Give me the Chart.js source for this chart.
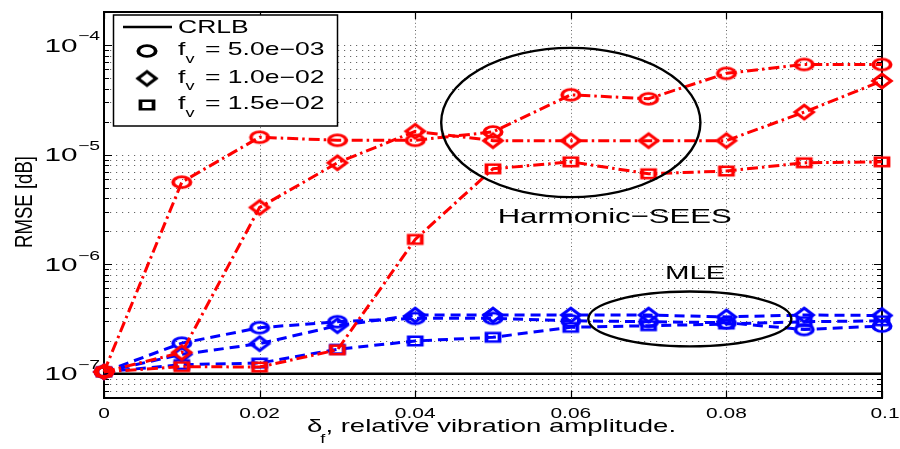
<!DOCTYPE html>
<html>
<head>
<meta charset="utf-8">
<script src="https://cdn.jsdelivr.net/npm/chart.js@4.4.1/dist/chart.umd.min.js"></script>
<style>
html,body{margin:0;padding:0;background:#fff;}
canvas{display:block;}
</style>
</head>
<body>
<canvas id="c" width="900" height="449"></canvas>
<script>
// ---------------- data ----------------
const xValues = [0, 0.01, 0.02, 0.03, 0.04, 0.05, 0.06, 0.07, 0.08, 0.09, 0.1];
const crlbValues = [1.0e-7, 1.0e-7, 1.0e-7, 1.0e-7, 1.0e-7, 1.0e-7, 1.0e-7, 1.0e-7, 1.0e-7, 1.0e-7, 1.0e-7];
// Harmonic-SEES (red, dash-dot)
const seesFv1 = [1.04e-7, 5.6e-6, 1.44e-5, 1.35e-5, 1.35e-5, 1.61e-5, 3.51e-5, 3.23e-5, 5.51e-5, 6.64e-5, 6.64e-5];
const seesFv2 = [1.04e-7, 1.56e-7, 3.29e-6, 8.41e-6, 1.63e-5, 1.34e-5, 1.34e-5, 1.34e-5, 1.34e-5, 2.44e-5, 4.70e-5];
const seesFv3 = [1.04e-7, 1.16e-7, 1.15e-7, 1.65e-7, 1.68e-6, 7.41e-6, 8.58e-6, 6.68e-6, 7.07e-6, 8.41e-6, 8.58e-6];
// MLE (blue, dashed)
const mleFv1 = [1.04e-7, 1.90e-7, 2.63e-7, 2.98e-7, 3.20e-7, 3.20e-7, 3.04e-7, 2.98e-7, 2.92e-7, 2.53e-7, 2.72e-7];
const mleFv2 = [1.04e-7, 1.50e-7, 1.88e-7, 2.74e-7, 3.43e-7, 3.43e-7, 3.43e-7, 3.43e-7, 3.30e-7, 3.43e-7, 3.40e-7];
const mleFv3 = [1.04e-7, 1.21e-7, 1.25e-7, 1.67e-7, 1.99e-7, 2.15e-7, 2.65e-7, 2.74e-7, 2.84e-7, 2.98e-7, 3.04e-7];

const legendLabels = ['CRLB', '= 5.0e\u221203', '= 1.0e\u221202', '= 1.5e\u221202'];
const xTickValues = [0, 0.02, 0.04, 0.06, 0.08, 0.1];
const xTickLabels = ['0', '0.02', '0.04', '0.06', '0.08', '0.1'];
const yTickValues = [1e-7, 1e-6, 1e-5, 1e-4];
const yTickBases = ['10', '10', '10', '10'];
const yTickExponents = ['\u22127', '\u22126', '\u22125', '\u22124'];
const xAxisTitle = ['\u03B4', 'f', ', relative vibration amplitude.'];
const yAxisTitle = 'RMSE [dB]';
const annotationTexts = ['Harmonic\u2212SEES', 'MLE'];
// annotation anchors in data units: [x, y]
const annotationAnchors = [[0.0506, 2.8e-6], [0.0721, 8.43e-7]];
// ellipses in data units: [centerX, centerY, halfWidthX, halfHeightDecades]
const ellipseSees = [0.06, 1.96e-5, 0.01666, 0.681];
const ellipseMle = [0.0753, 3.16e-7, 0.01305, 0.25];

// ---------------- markers ----------------
const FONT = '"Liberation Sans", Arial, Helvetica, sans-serif';
function makeMarker(shape, color) {
  const c = document.createElement('canvas');
  c.width = 30; c.height = 22;
  const g = c.getContext('2d');
  g.setTransform(1.45, 0, 0, 1, 15, 11);
  g.strokeStyle = color;
  g.lineWidth = 2.6;
  g.lineJoin = 'miter';
  g.beginPath();
  if (shape === 'circle') {
    g.ellipse(0, 0, 6.0, 5.4, 0, 0, Math.PI * 2);
  } else if (shape === 'diamond') {
    g.moveTo(0, -6.8); g.lineTo(6.3, 0); g.lineTo(0, 6.8); g.lineTo(-6.3, 0); g.closePath();
  } else {
    g.rect(-4.5, -4.2, 9.0, 8.4);
  }
  g.stroke();
  return c;
}
const RED = '#ff0000', BLUE = '#0000ff';
const M = {};
['circle', 'diamond', 'square'].forEach(s => {
  M[s + RED] = makeMarker(s, RED);
  M[s + BLUE] = makeMarker(s, BLUE);
  M[s + '#000'] = makeMarker(s, '#000000');
});

const pts = arr => xValues.map((x, i) => ({ x: x, y: arr[i] }));
function ds(label, arr, color, dash, shape, order) {
  return {
    label: label, data: pts(arr), borderColor: color, backgroundColor: color,
    borderWidth: 3, borderDash: dash, fill: false, tension: 0,
    pointStyle: M[shape + color], pointRadius: 9, pointHoverRadius: 9,
    clip: false, order: order
  };
}
const redDash = [11, 4, 2.5, 4];
const blueDash = [10, 6];

// ---------------- text helper ----------------
function txt(ctx, s, x, base, size, sx, align) {
  ctx.font = size + 'px ' + FONT;
  const w = ctx.measureText(s).width * sx;
  let x0 = x;
  if (align === 'center') x0 = x - w / 2; else if (align === 'right') x0 = x - w;
  ctx.save();
  ctx.translate(x0, base);
  ctx.scale(sx, 1);
  ctx.textAlign = 'left';
  ctx.textBaseline = 'alphabetic';
  ctx.fillStyle = '#000';
  ctx.fillText(s, 0, 0);
  ctx.restore();
  return x0 + w;
}

function gridValues(min, max) {
  const out = [];
  for (let e = -9; e <= -3; e++) {
    for (let m = 1; m <= 9; m++) {
      const v = m * Math.pow(10, e);
      if (v > min * 1.0001 && v < max * 0.9999) out.push({ v: v, major: m === 1 });
    }
  }
  return out;
}

const decor = {
  id: 'decor',
  beforeDraw(chart) {
    const ctx = chart.ctx;
    ctx.save(); ctx.fillStyle = '#fff'; ctx.fillRect(0, 0, chart.width, chart.height); ctx.restore();
  },
  beforeDatasetsDraw(chart) {
    const ctx = chart.ctx, a = chart.chartArea, xs = chart.scales.x, ys = chart.scales.y;
    const gv = gridValues(ys.min, ys.max);
    ctx.save();
    // horizontal dotted grid
    ctx.strokeStyle = 'rgba(0,0,0,0.6)';
    ctx.lineWidth = 1;
    ctx.setLineDash([1.2, 4.8]);
    gv.forEach(g => {
      const y = Math.round(ys.getPixelForValue(g.v)) + 0.5;
      ctx.beginPath(); ctx.moveTo(a.left, y); ctx.lineTo(a.right, y); ctx.stroke();
    });
    // vertical dotted grid
    ctx.setLineDash([1, 2.6]);
    xTickValues.slice(1, -1).forEach(v => {
      const x = Math.round(xs.getPixelForValue(v)) + 0.5;
      ctx.beginPath(); ctx.moveTo(x, a.top); ctx.lineTo(x, a.bottom); ctx.stroke();
    });
    ctx.setLineDash([]);
    // frame
    ctx.strokeStyle = '#000';
    ctx.lineWidth = 2;
    ctx.strokeRect(a.left, a.top, a.right - a.left, a.bottom - a.top);
    // ticks
    ctx.lineWidth = 1.2;
    gv.forEach(g => {
      const y = Math.round(ys.getPixelForValue(g.v)) + 0.5;
      const L = g.major ? 8 : 5;
      ctx.beginPath();
      ctx.moveTo(a.left, y); ctx.lineTo(a.left + L, y);
      ctx.moveTo(a.right, y); ctx.lineTo(a.right - L, y);
      ctx.stroke();
    });
    xTickValues.forEach(v => {
      const x = Math.round(xs.getPixelForValue(v)) + 0.5;
      ctx.beginPath();
      ctx.moveTo(x, a.bottom); ctx.lineTo(x, a.bottom - 7);
      ctx.moveTo(x, a.top); ctx.lineTo(x, a.top + 7);
      ctx.stroke();
    });
    // x tick labels
    xTickValues.forEach((v, i) => {
      let x = xs.getPixelForValue(v);
      if (i === xTickValues.length - 1) x += 3;
      txt(ctx, xTickLabels[i], x, 417.7, 15.5, 1.35, 'center');
    });
    // y tick labels
    yTickValues.forEach((v, i) => {
      const y = ys.getPixelForValue(v);
      const end = txt(ctx, yTickBases[i], 77.5, y + 6.7, 18.6, 1.6, 'right');
      txt(ctx, yTickExponents[i], end + 0.5, y - 4.5, 12.5, 1.55, 'left');
    });
    // x axis title
    let xe = txt(ctx, xAxisTitle[0], 307, 431.7, 19, 1.45, 'left');
    xe = txt(ctx, xAxisTitle[1], xe - 2, 443, 13, 1.4, 'left');
    txt(ctx, xAxisTitle[2], xe, 431.7, 19, 1.45, 'left');
    // y axis title (rotated)
    ctx.save();
    ctx.translate(23.3, (a.top + a.bottom) / 2 - 3);
    ctx.scale(1.25, 1);
    ctx.rotate(-Math.PI / 2);
    ctx.font = '18.6px ' + FONT;
    ctx.textAlign = 'center';
    ctx.textBaseline = 'alphabetic';
    ctx.fillStyle = '#000';
    ctx.fillText(yAxisTitle, 0, 6.7);
    ctx.restore();
    ctx.restore();
  },
  afterDatasetsDraw(chart) {
    const ctx = chart.ctx, xs = chart.scales.x, ys = chart.scales.y;
    ctx.save();
    // ellipses
    ctx.strokeStyle = '#000';
    ctx.lineWidth = 2.4;
    [ellipseSees, ellipseMle].forEach(e => {
      const cx = xs.getPixelForValue(e[0]);
      const cy = ys.getPixelForValue(e[1]);
      const rx = xs.getPixelForValue(e[0] + e[2]) - cx;
      const ry = ys.getPixelForValue(e[1] / Math.pow(10, e[3])) - cy;
      ctx.beginPath(); ctx.ellipse(cx, cy, rx, ry, 0, 0, Math.PI * 2); ctx.stroke();
    });
    // annotation texts
    const p0 = annotationAnchors[0], p1 = annotationAnchors[1];
    txt(ctx, annotationTexts[0], xs.getPixelForValue(p0[0]), ys.getPixelForValue(p0[1]) + 7.5, 21, 1.48, 'left');
    txt(ctx, annotationTexts[1], xs.getPixelForValue(p1[0]), ys.getPixelForValue(p1[1]) + 6.7, 18.6, 1.58, 'left');
    // legend
    ctx.fillStyle = '#fff';
    ctx.fillRect(113.5, 15, 224, 111);
    ctx.strokeStyle = '#000';
    ctx.lineWidth = 1.5;
    ctx.strokeRect(113.5, 15, 224, 111);
    ctx.lineWidth = 2.5;
    ctx.beginPath(); ctx.moveTo(123, 27); ctx.lineTo(172, 27); ctx.stroke();
    txt(ctx, legendLabels[0], 178, 27 + 6.3, 17.7, 1.5, 'left');
    const rows = [49, 76.5, 103];
    const shapes = ['circle', 'diamond', 'square'];
    rows.forEach((ry, i) => {
      const img = M[shapes[i] + '#000'];
      ctx.drawImage(img, 147 - img.width / 2, ry + 2 - img.height / 2);
      txt(ctx, 'f', 178, ry + 6.3, 17.7, 1.5, 'left');
      txt(ctx, 'v', 185.5, ry + 13.5, 12.5, 1.45, 'left');
      txt(ctx, legendLabels[i + 1], 205, ry + 6.3, 17.7, 1.5, 'left');
    });
    ctx.restore();
  }
};

new Chart(document.getElementById('c'), {
  type: 'line',
  data: {
    datasets: [
      ds('Harmonic-SEES f_v = 5.0e-03', seesFv1, RED, redDash, 'circle', 1),
      ds('Harmonic-SEES f_v = 1.0e-02', seesFv2, RED, redDash, 'diamond', 1),
      ds('Harmonic-SEES f_v = 1.5e-02', seesFv3, RED, redDash, 'square', 1),
      ds('MLE f_v = 5.0e-03', mleFv1, BLUE, blueDash, 'circle', 2),
      ds('MLE f_v = 1.0e-02', mleFv2, BLUE, blueDash, 'diamond', 2),
      ds('MLE f_v = 1.5e-02', mleFv3, BLUE, blueDash, 'square', 2),
      {
        label: 'CRLB', data: pts(crlbValues), borderColor: '#000', backgroundColor: '#000',
        borderWidth: 2.5, pointRadius: 0, fill: false, tension: 0, order: 3
      }
    ]
  },
  plugins: [decor],
  options: {
    responsive: false,
    animation: false,
    events: [],
    layout: { padding: { top: 10, right: 18, left: 0, bottom: 0 } },
    plugins: { legend: { display: false }, tooltip: { enabled: false }, title: { display: false } },
    scales: {
      x: {
        type: 'linear', min: 0, max: 0.1,
        grid: { display: false }, border: { display: false },
        ticks: { display: false },
        afterFit: s => { s.height = 51; }
      },
      y: {
        type: 'logarithmic', min: 6e-8, max: 2e-4,
        grid: { display: false }, border: { display: false },
        ticks: { display: false },
        afterFit: s => { s.width = 104; }
      }
    }
  }
});
</script>
</body>
</html>
